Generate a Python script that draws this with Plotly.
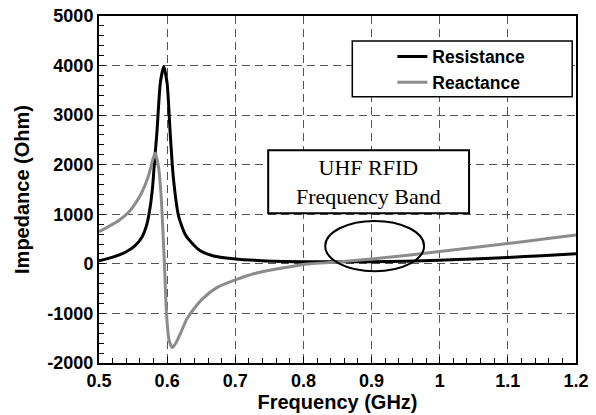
import plotly.graph_objects as go

# Antenna input impedance vs frequency
freq_res = [0.500, 0.519, 0.5386, 0.553, 0.563, 0.5704, 0.575, 0.5786, 0.5816, 0.585,
            0.590, 0.595, 0.600, 0.6045, 0.609, 0.617, 0.627, 0.639, 0.648, 0.668,
            0.697, 0.740, 0.800, 0.850, 0.900, 0.950, 1.000, 1.050, 1.100, 1.150,
            1.200]
resistance = [60, 130, 234, 369, 536, 806, 1141, 1544, 2083, 2650,
              3650, 3980, 3640, 2630, 1750, 950, 580, 380, 270, 160,
              105, 65, 45, 40, 45, 55, 75, 100, 130, 165,
              205]

freq_react = [0.500, 0.514, 0.529, 0.5434, 0.553, 0.563, 0.5727, 0.580, 0.5826, 0.5874,
              0.5913, 0.596, 0.599, 0.603, 0.6075, 0.6135, 0.619, 0.629, 0.639, 0.653,
              0.673, 0.700, 0.727, 0.756, 0.785, 0.810, 0.850, 0.900, 0.950, 1.000,
              1.050, 1.100, 1.150, 1.200]
reactance = [650, 752, 873, 1040, 1210, 1444, 1780, 2150, 2235, 1948,
             1343, 0, -1000, -1550, -1690, -1580, -1420, -1110, -910, -690,
             -480, -325, -200, -115, -47, 0, 35, 100, 170, 250,
             330, 410, 495, 580]

x_ticks = [0.5, 0.6, 0.7, 0.8, 0.9, 1.0, 1.1, 1.2]
x_labels = ["0.5", "0.6", "0.7", "0.8", "0.9", "1", "1.1", "1.2"]
y_ticks = [-2000, -1000, 0, 1000, 2000, 3000, 4000, 5000]
y_labels = ["-2000", "-1000", "0", "1000", "2000", "3000", "4000", "5000"]

band_label = "UHF RFID<br>Frequency Band"
band_ellipse = dict(x0=0.832, x1=0.977, y0=-147, y1=867)

SANS = "Liberation Sans"
SERIF = "Liberation Serif"

fig = go.Figure()
fig.add_trace(go.Scatter(x=freq_res, y=resistance, mode="lines", name="Resistance",
                         line=dict(color="black", width=3, shape="spline", smoothing=0.6)))
fig.add_trace(go.Scatter(x=freq_react, y=reactance, mode="lines", name="Reactance",
                         line=dict(color="#8c8c8c", width=3, shape="spline", smoothing=0.6)))

axis_common = dict(
    automargin=False,
    showline=True, linecolor="black", linewidth=2, mirror=True,
    showgrid=True, gridcolor="#555555", gridwidth=1, griddash="8px,5px",
    zeroline=False, ticks="inside", ticklen=6, tickcolor="black", tickwidth=1,
    tickfont=dict(family=SANS, size=18, color="black", weight="bold"),
)

fig.update_xaxes(
    range=[0.5, 1.2], tickmode="array", tickvals=x_ticks, ticktext=x_labels,
    minor=dict(dtick=0.02, ticks="inside", ticklen=5, tickcolor="black", showgrid=False),
    title=dict(text="Frequency (GHz)", font=dict(family=SANS, size=20, color="black", weight="bold"),
               standoff=2),
    **axis_common,
)
fig.update_yaxes(
    range=[-2000, 5000], tickmode="array", tickvals=y_ticks, ticktext=y_labels,
    minor=dict(dtick=200, ticks="inside", ticklen=5, tickcolor="black", showgrid=False),
    title=dict(text="Impedance (Ohm)", font=dict(family=SANS, size=20, color="black", weight="bold"),
               standoff=12),
    **axis_common,
)

# legend frame
fig.add_shape(type="rect", xref="paper", yref="paper", x0=0.531, x1=0.992, y0=0.767, y1=0.928,
              line=dict(color="black", width=1.5), fillcolor="white", layer="above")
# frequency band label box
fig.add_shape(type="rect", xref="paper", yref="paper", x0=0.3547, x1=0.7758, y0=0.4314, y1=0.613,
              line=dict(color="black", width=2), fillcolor="white", layer="above")
fig.add_annotation(text=band_label, xref="paper", yref="paper", x=0.565, y=0.523,
                   showarrow=False, align="center",
                   font=dict(family=SERIF, size=22, color="black"))
# ellipse around the band
fig.add_shape(type="circle", xref="x", yref="y", line=dict(color="black", width=2),
              layer="above", **band_ellipse)

fig.update_layout(
    width=596, height=415,
    margin=dict(l=99, r=20, t=16, b=52),
    paper_bgcolor="white", plot_bgcolor="white",
    showlegend=True,
    legend=dict(x=0.615, y=0.935, xanchor="left", yanchor="top",
                bgcolor="rgba(0,0,0,0)", borderwidth=0,
                font=dict(family=SANS, size=17.5, color="black", weight="bold"),
                itemwidth=30, tracegroupgap=0),
)

fig.write_html("out.html")
